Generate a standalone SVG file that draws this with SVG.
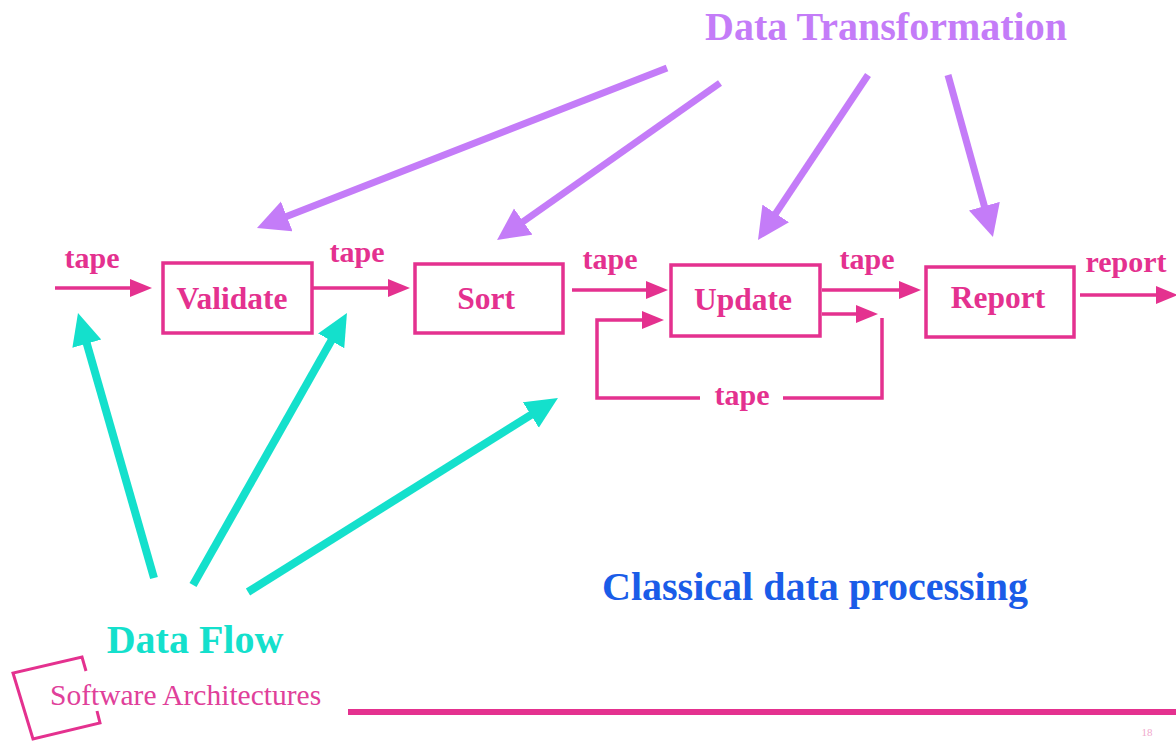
<svg xmlns="http://www.w3.org/2000/svg" width="1176" height="742" viewBox="0 0 1176 742">
<style>
text{font-family:"Liberation Serif","Times New Roman",serif;font-weight:bold}
.lbl{font-size:30px;fill:#e4318f}
.blbl{font-size:31.5px;fill:#e4318f}
.box{fill:none;stroke:#e4318f;stroke-width:3.5}
.pk{fill:none;stroke:#e4318f;stroke-width:3.5}
.pu{fill:none;stroke:#c47cf8;stroke-width:7}
.cy{fill:none;stroke:#14e0cc;stroke-width:8}
</style>
<defs>
<marker id="ap" markerUnits="userSpaceOnUse" markerWidth="24" markerHeight="20" refX="6" refY="9" orient="auto"><path d="M0,0 L22,9 L0,18 z" fill="#e4318f"/></marker>
<marker id="au" markerUnits="userSpaceOnUse" markerWidth="34" markerHeight="34" refX="12" refY="16" orient="auto"><path d="M0,0 L32,16 L0,32 z" fill="#c47cf8"/></marker>
<marker id="ac" markerUnits="userSpaceOnUse" markerWidth="34" markerHeight="34" refX="12" refY="15" orient="auto"><path d="M0,0 L32,15 L0,30 z" fill="#14e0cc"/></marker>
</defs>
<rect width="1176" height="742" fill="#fff"/>

<g id="title-transformation"><text x="886" y="40" text-anchor="middle" font-size="40" fill="#c47cf8">Data Transformation</text></g>
<g id="title-flow"><text x="195" y="653" text-anchor="middle" font-size="40" fill="#14e0cc">Data Flow</text></g>
<g id="title-classical"><text x="815" y="600" text-anchor="middle" font-size="40" fill="#1a5ce8">Classical data processing</text></g>

<g id="validate"><rect class="box" x="163" y="263" width="149" height="70"/><text class="blbl" x="232" y="309" text-anchor="middle">Validate</text></g>
<g id="sort"><rect class="box" x="415" y="264" width="148" height="69"/><text class="blbl" x="486" y="309" text-anchor="middle">Sort</text></g>
<g id="update"><rect class="box" x="671" y="265" width="149" height="71"/><text class="blbl" x="743" y="310" text-anchor="middle">Update</text></g>
<g id="report"><rect class="box" x="926" y="267" width="148" height="70"/><text class="blbl" x="998" y="308" text-anchor="middle">Report</text></g>

<g id="connectors">
<path class="pk" d="M55,288 H136" marker-end="url(#ap)"/>
<path class="pk" d="M312,288 H394" marker-end="url(#ap)"/>
<path class="pk" d="M572,290 H652" marker-end="url(#ap)"/>
<path class="pk" d="M822,290 H905" marker-end="url(#ap)"/>
<path class="pk" d="M822,314 H862" marker-end="url(#ap)"/>
<path class="pk" d="M700,398 H597 V320 H648" marker-end="url(#ap)"/>
<path class="pk" d="M783,398 H882 V318"/>
<path class="pk" d="M1080,295 H1162" marker-end="url(#ap)"/>

<path class="pu" d="M667,68 L275.6,220.7" marker-end="url(#au)"/>
<path class="pu" d="M720,83 L513.4,228.5" marker-end="url(#au)"/>
<path class="pu" d="M868,75 L769.1,223.4" marker-end="url(#au)"/>
<path class="pu" d="M948,75 L987.6,217.7" marker-end="url(#au)"/>

<path class="cy" d="M154,578 L83.5,332.2" marker-end="url(#ac)"/>
<path class="cy" d="M193,585 L337.1,330.4" marker-end="url(#ac)"/>
<path class="cy" d="M248,592 L541,408.6" marker-end="url(#ac)"/>

<text class="lbl" x="92" y="268" text-anchor="middle">tape</text>
<text class="lbl" x="357" y="262" text-anchor="middle">tape</text>
<text class="lbl" x="610" y="269" text-anchor="middle">tape</text>
<text class="lbl" x="867" y="269" text-anchor="middle">tape</text>
<text class="lbl" x="742" y="405" text-anchor="middle">tape</text>
<text class="lbl" x="1126" y="272" text-anchor="middle">report</text>
</g>

<g id="footer">
<path d="M86,671 L82,657 L13,673 L33,739 L100,723 L97,711" fill="none" stroke="#e4318f" stroke-width="3"/>
<text x="50" y="705" font-size="29.5" style="font-weight:normal" fill="#e0409a">Software Architectures</text>
<line x1="348" y1="712" x2="1176" y2="712" stroke="#e4318f" stroke-width="6"/>
<text x="1147" y="736" text-anchor="middle" font-size="11" style="font-weight:normal" fill="#f0a8cc">18</text>
</g>
</svg>
